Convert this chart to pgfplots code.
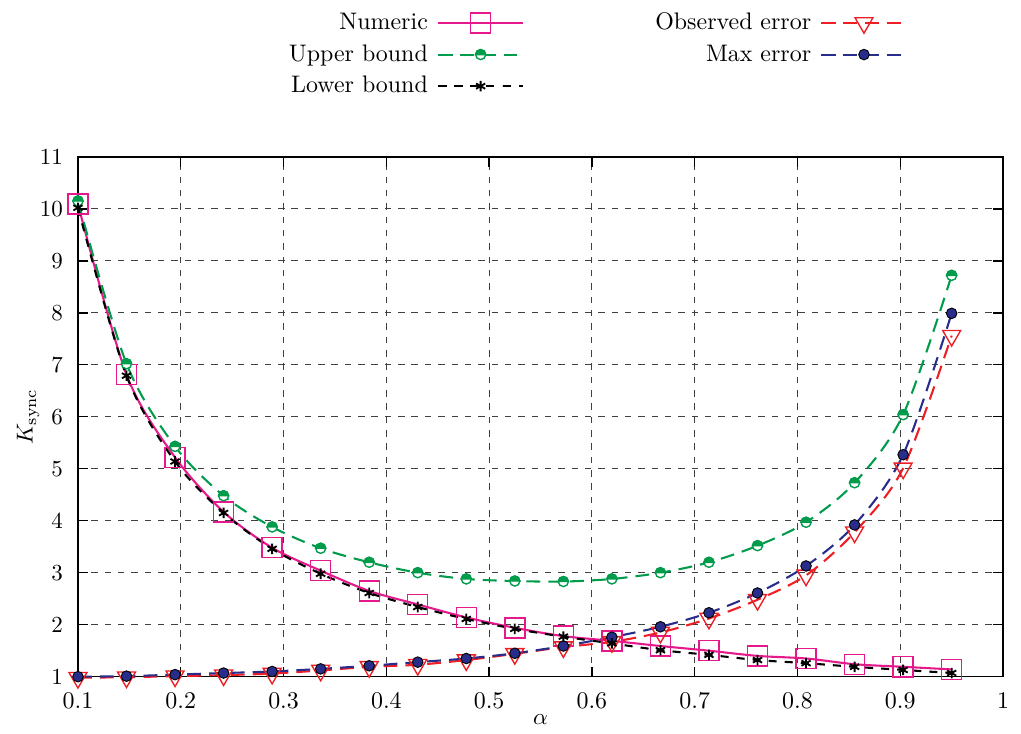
\documentclass[border=0pt]{standalone}
\usepackage{pgfplots}
\pgfplotsset{compat=1.18}
\usepackage{pgfplotstable}
\definecolor{cnum}{RGB}{230,25,140}
\definecolor{cup}{RGB}{0,155,75}
\definecolor{cobs}{RGB}{237,30,36}
\definecolor{cmax}{RGB}{40,45,140}
\makeatletter
\pgfdeclareplotmark{uphalf}{%
  \pgfpathcircle{\pgfpointorigin}{\pgfplotmarksize}%
  \pgfsetfillcolor{white}%
  \pgfusepathqfillstroke
  \pgfpathmoveto{\pgfqpoint{\pgfplotmarksize}{0pt}}%
  \pgfpatharc{0}{180}{\pgfplotmarksize}%
  \pgfpathclose
  \pgfsetfillcolor{cup}%
  \pgfusepathqfillstroke
}
\makeatother
\pgfplotstableread{
x num up low obs max
0.10000 10.09 10.15 10.02 0.98 1.00
0.14722 6.81 7.02 6.79 0.99 1.01
0.19444 5.22 5.43 5.14 1.01 1.04
0.24167 4.17 4.48 4.15 1.03 1.07
0.28889 3.48 3.88 3.46 1.06 1.10
0.33611 3.04 3.47 2.98 1.12 1.15
0.38333 2.65 3.20 2.61 1.19 1.21
0.43056 2.39 3.00 2.34 1.23 1.28
0.47778 2.14 2.88 2.11 1.32 1.35
0.52500 1.94 2.84 1.92 1.44 1.45
0.57222 1.78 2.83 1.77 1.57 1.59
0.61944 1.69 2.88 1.64 1.67 1.76
0.66667 1.59 3.00 1.51 1.85 1.96
0.71389 1.50 3.20 1.42 2.12 2.23
0.76111 1.40 3.52 1.32 2.48 2.61
0.80833 1.35 3.97 1.26 2.95 3.13
0.85556 1.24 4.73 1.19 3.78 3.92
0.90278 1.19 6.04 1.13 5.01 5.27
0.95000 1.14 8.72 1.07 7.56 7.99
}\data
\begin{document}
\begin{tikzpicture}
\begin{axis}[
  scale only axis,
  width=402.2pt, height=226pt,
  xmin=0.1, xmax=1, ymin=1, ymax=11,
  xtick={0.1,0.2,...,1.0}, ytick={1,2,...,11},
  xticklabels={0.1,0.2,0.3,0.4,0.5,0.6,0.7,0.8,0.9,1},
  tick label style={font=\fontsize{10.4}{12.5}\selectfont},
  label style={font=\fontsize{10.4}{12.5}\selectfont},
  xticklabel style={yshift=-3.2pt},
  yticklabel style={xshift=-3pt},
  tick align=inside,
  major tick length=4.3pt,
  tick style={black, line width=0.6pt},
  axis line style={line width=0.6pt},
  grid=major,
  major grid style={black!75, line width=0.4pt, dash pattern=on 2.8pt off 3pt},
  xlabel={$\alpha$}, ylabel={$K_{\mathrm{sync}}$},
  every axis x label/.style={at={(axis description cs:0.5,-0.083)}, anchor=center},
  every axis y label/.style={at={(axis description cs:-0.054,0.5)}, rotate=90, anchor=center},
  clip=false,
  legend columns=2,
  legend plot pos=right,
  legend cell align=right,
  legend style={draw=none, fill=none, inner sep=0pt, row sep=1pt,
    font=\fontsize{10.4}{12.5}\selectfont,
    at={(axis description cs:0.2225,1.287)}, anchor=north west,
    /tikz/column 1/.style={column sep=2pt},
    /tikz/column 2/.style={column sep=55pt},
    /tikz/column 3/.style={column sep=2pt}},
  legend image code/.code={\draw[mark repeat=2,mark phase=2] plot coordinates {(0cm,0cm) (0.65cm,0cm) (1.3cm,0cm)};},
]
\addplot[cnum, line width=0.9pt, smooth, mark=square, mark size=4.35pt, mark options={solid, line width=0.6pt}] table[x=x,y=num]{\data};
\addlegendentry{Numeric}
\addplot[cobs, line width=0.9pt, smooth, dash pattern=on 6pt off 3.5pt, mark=triangle, mark size=4.5pt, mark options={solid, rotate=180, line width=0.6pt}] table[x=x,y=obs]{\data};
\addlegendentry{Observed error}
\addplot[cup, line width=0.9pt, smooth, dash pattern=on 6pt off 3.5pt, mark=uphalf, mark size=2.2pt, mark options={solid, line width=0.6pt}] table[x=x,y=up]{\data};
\addlegendentry{Upper bound}
\addplot[cmax, line width=0.9pt, smooth, dash pattern=on 6pt off 3.5pt, mark=*, mark size=2.3pt, mark options={solid, fill=cmax, draw=black, line width=0.4pt}] table[x=x,y=max]{\data};
\addlegendentry{Max error}
\addplot[black, line width=0.9pt, smooth, dash pattern=on 3.5pt off 3.5pt, mark=asterisk, mark size=2.3pt, mark options={solid, line width=0.8pt}] table[x=x,y=low]{\data};
\addlegendentry{Lower bound}
\end{axis}
\pgfresetboundingbox
\path (-33.9pt,-24.5pt) rectangle (410pt,294.2pt);
\end{tikzpicture}
\end{document}
